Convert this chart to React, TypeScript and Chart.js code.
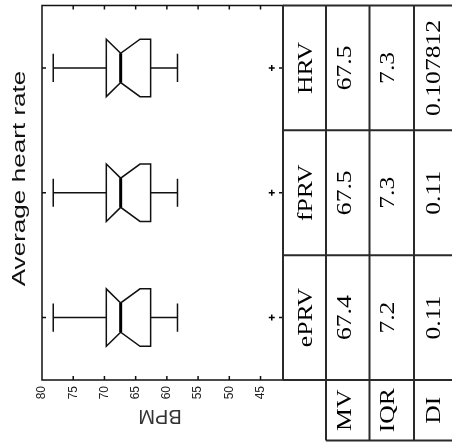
import React, { useEffect, useRef } from 'react';
import { Chart, registerables } from 'chart.js';

Chart.register(...registerables);

// ---- data (order: ePRV, fPRV, HRV; ePRV at the bottom of the picture) ----
const categories = ['ePRV', 'fPRV', 'HRV'];
const whiskerHigh = [78.2, 78.2, 78.2];
const upperQuartile = [69.7, 69.7, 69.7];
const notchHigh = [69.7, 69.7, 69.7];
const medians = [67.4, 67.4, 67.4];
const notchLow = [64.3, 64.3, 64.3];
const lowerQuartile = [62.6, 62.6, 62.6];
const whiskerLow = [58.3, 58.3, 58.3];
const outliers = [43.2, 43.2, 43.2];
const valueTicks = [45, 50, 55, 60, 65, 70, 75, 80];
const axisMin = 41.4;
const axisMax = 80;

const rowLabels = ['MV', 'IQR', 'DI'];
const mvValues = ['67.4', '67.5', '67.5'];
const iqrValues = ['7.2', '7.3', '7.3'];
const diValues = ['0.11', '0.11', '0.107812'];

const titleText = 'Average heart rate';
const axisTitle = 'BPM';

function vText(ctx: CanvasRenderingContext2D, s: string, cx: number, cy: number, font: string, stretch: number) {
  ctx.save();
  ctx.translate(cx, cy);
  ctx.rotate(-Math.PI / 2);
  ctx.scale(stretch, 1);
  ctx.font = font;
  ctx.textAlign = 'center';
  ctx.textBaseline = 'middle';
  ctx.fillText(s, 0, 0);
  ctx.restore();
}

const boxPlugin = {
  id: 'notchedBoxes',
  beforeDatasetsDraw(chart: any) {
    const { ctx, scales } = chart;
    const x = scales.x;
    const y = scales.y;
    const px = (v: number) => x.getPixelForValue(v);
    ctx.save();
    ctx.strokeStyle = '#111';
    ctx.lineWidth = 1.5;
    ctx.lineJoin = 'miter';
    categories.forEach((_c, i) => {
      const pos = i + 1;
      const yc = y.getPixelForValue(pos);
      const hb = Math.abs(y.getPixelForValue(pos + 0.23) - yc);
      const hn = Math.abs(y.getPixelForValue(pos + 0.117) - yc);
      const hc = Math.abs(y.getPixelForValue(pos + 0.113) - yc);
      ctx.beginPath();
      ctx.moveTo(px(upperQuartile[i]), yc - hb);
      ctx.lineTo(px(notchHigh[i]), yc - hb);
      ctx.lineTo(px(medians[i]), yc - hn);
      ctx.lineTo(px(notchLow[i]), yc - hb);
      ctx.lineTo(px(lowerQuartile[i]), yc - hb);
      ctx.lineTo(px(lowerQuartile[i]), yc + hb);
      ctx.lineTo(px(notchLow[i]), yc + hb);
      ctx.lineTo(px(medians[i]), yc + hn);
      ctx.lineTo(px(notchHigh[i]), yc + hb);
      ctx.lineTo(px(upperQuartile[i]), yc + hb);
      ctx.closePath();
      ctx.stroke();
      // whiskers
      ctx.beginPath();
      ctx.moveTo(px(upperQuartile[i]), yc);
      ctx.lineTo(px(whiskerHigh[i]), yc);
      ctx.moveTo(px(whiskerHigh[i]), yc - hc);
      ctx.lineTo(px(whiskerHigh[i]), yc + hc);
      ctx.moveTo(px(lowerQuartile[i]), yc);
      ctx.lineTo(px(whiskerLow[i]), yc);
      ctx.moveTo(px(whiskerLow[i]), yc - hc);
      ctx.lineTo(px(whiskerLow[i]), yc + hc);
      ctx.stroke();
      // median
      ctx.save();
      ctx.lineWidth = 3;
      ctx.strokeStyle = '#000';
      ctx.beginPath();
      ctx.moveTo(px(medians[i]), yc - hn);
      ctx.lineTo(px(medians[i]), yc + hn);
      ctx.stroke();
      ctx.restore();
    });
    ctx.restore();
  },
  afterDraw(chart: any) {
    const { ctx, scales, chartArea: a } = chart;
    const x = scales.x;
    const y = scales.y;
    ctx.save();
    // axes frame
    ctx.strokeStyle = '#111';
    ctx.lineWidth = 1.5;
    ctx.strokeRect(a.left, a.top, a.right - a.left, a.bottom - a.top);
    // inward ticks
    ctx.beginPath();
    valueTicks.forEach((v) => {
      const xp = x.getPixelForValue(v);
      if (Math.abs(xp - a.left) < 1) return;
      ctx.moveTo(xp, a.bottom);
      ctx.lineTo(xp, a.bottom - 4);
      ctx.moveTo(xp, a.top);
      ctx.lineTo(xp, a.top + 4);
    });
    categories.forEach((_c, i) => {
      const yp = y.getPixelForValue(i + 1);
      ctx.moveTo(a.left, yp);
      ctx.lineTo(a.left + 4, yp);
      ctx.moveTo(a.right, yp);
      ctx.lineTo(a.right - 4, yp);
    });
    ctx.stroke();

    // title (reads bottom to top)
    ctx.fillStyle = '#111';
    ctx.save();
    ctx.translate(24.5, 178.5);
    ctx.rotate(-Math.PI / 2);
    ctx.scale(1.45, 1);
    ctx.font = '18px "Liberation Sans", Arial, sans-serif';
    ctx.textAlign = 'center';
    ctx.textBaseline = 'alphabetic';
    ctx.fillText(titleText, 0, 0);
    ctx.restore();

    // value axis title (upside down)
    ctx.save();
    ctx.translate(160, 410);
    ctx.rotate(Math.PI);
    ctx.font = '20px "Liberation Sans", Arial, sans-serif';
    ctx.textAlign = 'center';
    ctx.textBaseline = 'alphabetic';
    ctx.fillStyle = '#333';
    ctx.fillText(axisTitle, 0, 0);
    ctx.restore();

    // table
    const cols = [a.right, 326, 369.5, 414, 452];
    const labelBottom = 440.5;
    ctx.strokeStyle = '#2a2a2a';
    ctx.lineWidth = 2;
    ctx.beginPath();
    for (let k = 0; k <= categories.length; k++) {
      const yb = y.getPixelForValue(k + 0.5);
      ctx.moveTo(a.right, yb);
      ctx.lineTo(cols[4], yb);
    }
    ctx.moveTo(cols[1], labelBottom);
    ctx.lineTo(cols[4], labelBottom);
    ctx.moveTo(cols[0], a.top);
    ctx.lineTo(cols[0], a.bottom);
    for (let c = 1; c <= 3; c++) {
      ctx.moveTo(cols[c], a.top);
      ctx.lineTo(cols[c], labelBottom);
    }
    ctx.stroke();

    const serif = '21px "Liberation Serif", "Times New Roman", serif';
    const centers = [306, 345, 388, 434];
    ctx.fillStyle = '#000';
    categories.forEach((c, i) => {
      const yc = (y.getPixelForValue(i + 0.5) + y.getPixelForValue(i + 1.5)) / 2;
      vText(ctx, c, centers[0], yc, serif, 1.22);
      vText(ctx, mvValues[i], centers[1], yc, serif, 1.22);
      vText(ctx, iqrValues[i], centers[2], yc, serif, 1.22);
      vText(ctx, diValues[i], centers[3], yc, serif, 1.22);
    });
    const lyc = (a.bottom + labelBottom) / 2;
    rowLabels.forEach((l, k) => {
      vText(ctx, l, centers[k + 1], lyc, serif, 1.22);
    });
    ctx.restore();
  },
};

export default function App() {
  const ref = useRef<HTMLCanvasElement>(null);
  useEffect(() => {
    if (!ref.current) return;
    const chart = new Chart(ref.current, {
      type: 'scatter',
      data: {
        datasets: [
          {
            label: 'outliers',
            data: outliers.map((v, i) => ({ x: v, y: i + 1 })),
            pointStyle: 'cross',
            pointRadius: 3,
            borderColor: '#000',
            borderWidth: 1.5,
            backgroundColor: '#000',
          },
        ],
      },
      plugins: [boxPlugin],
      options: {
        animation: false,
        responsive: false,
        devicePixelRatio: 1,
        events: [],
        layout: { padding: { left: 0, top: 3, right: 169, bottom: 0 } },
        plugins: {
          legend: { display: false },
          title: { display: false },
          tooltip: { enabled: false },
        },
        scales: {
          x: {
            type: 'linear',
            reverse: true,
            min: axisMin,
            max: axisMax,
            grid: { display: false, drawTicks: false },
            border: { display: false },
            afterFit: (s: any) => {
              s.height = 68;
            },
            afterBuildTicks: (s: any) => {
              s.ticks = valueTicks.map((v) => ({ value: v }));
            },
            ticks: {
              autoSkip: false,
              minRotation: 90,
              maxRotation: 90,
              padding: 6,
              color: '#222',
              font: { family: '"Liberation Sans", Arial, sans-serif', size: 12 },
              callback: (v: any) => String(v),
            },
          },
          y: {
            type: 'linear',
            min: 0.5,
            max: 3.5,
            afterFit: (s: any) => {
              s.width = 42;
            },
            afterBuildTicks: (s: any) => {
              s.ticks = categories.map((_c, i) => ({ value: i + 1 }));
            },
            ticks: { display: false },
            grid: { display: false, drawTicks: false },
            border: { display: false },
          },
        },
      },
    } as any);
    return () => chart.destroy();
  }, []);
  return (
    <div style={{ position: 'absolute', left: 0, top: 0, width: 452, height: 448, background: '#fff' }}>
      <canvas ref={ref} width={452} height={448} style={{ display: 'block' }} />
    </div>
  );
}
